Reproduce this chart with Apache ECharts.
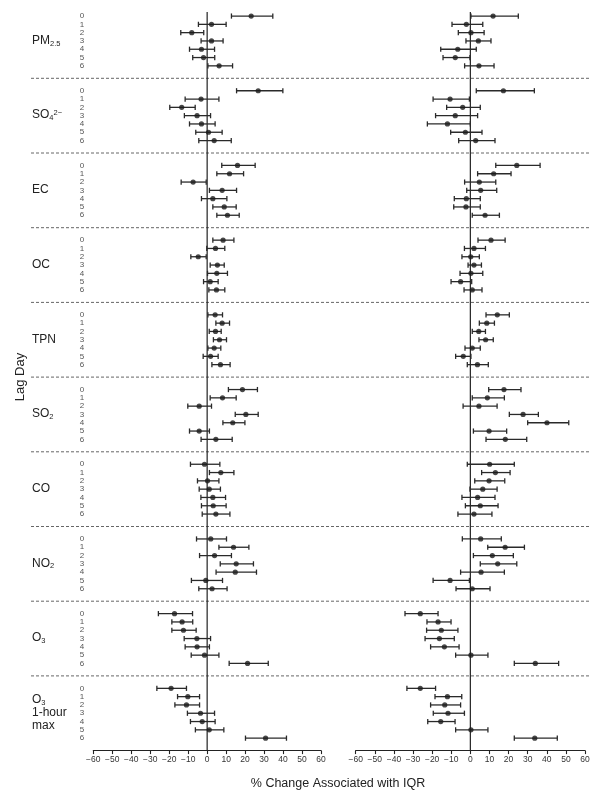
<!DOCTYPE html>
<html>
<head>
<meta charset="utf-8">
<script src="https://cdn.jsdelivr.net/npm/echarts@6/dist/echarts.min.js"></script>
<style>
  html, body { margin: 0; padding: 0; background: #fff; }
  #chart { width: 602px; height: 803px; }
</style>
</head>
<body>
<div id="chart"></div>
<script>
// group labels, top to bottom (rich text for sub/superscripts)
const groupLabels = [
  '{t|PM}{s|2.5}',
  '{t|SO}{s|4}{p|2−}',
  '{t|EC}',
  '{t|OC}',
  '{t|TPN}',
  '{t|SO}{s|2}',
  '{t|CO}',
  '{t|NO}{s|2}',
  '{t|O}{s|3}',
  '{t|O}{s|3}\n{t|1-hour}\n{t|max}'
]
const lagDays = [0, 1, 2, 3, 4, 5, 6]

// left panel, each row = [estimate, lower, upper] for lag 0..6
const leftPM25 = [[23.2, 12.8, 34.6], [2.3, -4.6, 10.0], [-8.1, -13.9, -1.8], [2.3, -3.2, 8.4], [-3.0, -9.3, 3.9], [-1.9, -7.6, 4.0], [6.3, 0.4, 13.4]]
const leftSO4 = [[26.9, 15.5, 39.9], [-3.2, -11.6, 6.2], [-13.4, -19.7, -6.3], [-5.3, -12.0, 1.8], [-3.0, -9.3, 4.2], [0.7, -6.0, 7.9], [3.7, -4.4, 12.7]]
const leftEC = [[16.0, 7.7, 25.3], [11.8, 5.1, 19.2], [-7.4, -13.7, -0.5], [7.9, 1.2, 15.5], [3.0, -3.0, 10.4], [9.0, 3.0, 15.3], [10.7, 5.1, 16.9]]
const leftOC = [[8.4, 3.0, 14.1], [4.4, -0.2, 9.3], [-4.7, -8.6, -0.5], [5.4, 1.6, 9.0], [5.1, 0.2, 10.7], [1.6, -1.9, 5.8], [4.9, 0.9, 9.3]]
const leftTPN = [[4.2, 0.4, 8.1], [7.9, 4.6, 11.8], [4.4, 1.1, 7.4], [6.5, 3.3, 10.2], [3.7, 0.4, 7.2], [1.8, -2.1, 5.8], [7.0, 2.5, 12.1]]
const leftSO2 = [[18.6, 11.2, 26.5], [8.1, 1.6, 15.3], [-4.2, -10.2, 2.3], [20.4, 14.8, 26.9], [13.5, 8.3, 19.9], [-4.2, -9.3, 1.2], [4.6, -3.2, 13.2]]
const leftCO = [[-1.4, -8.8, 6.7], [7.2, 1.2, 14.1], [0.2, -5.1, 6.2], [1.1, -4.2, 7.0], [3.0, -3.3, 9.7], [3.2, -3.0, 10.0], [4.6, -2.6, 12.0]]
const leftNO2 = [[1.9, -5.6, 10.2], [13.9, 6.2, 22.0], [3.9, -4.0, 12.8], [15.3, 6.9, 24.4], [14.8, 4.7, 26.0], [-0.7, -8.3, 8.1], [2.6, -4.4, 10.5]]
const leftO3 = [[-17.2, -25.7, -7.7], [-13.2, -18.6, -7.6], [-12.5, -18.6, -5.8], [-5.4, -12.1, 1.8], [-5.3, -11.6, 1.2], [-1.4, -8.4, 6.2], [21.3, 11.6, 32.2]]
const leftO3max = [[-19.0, -26.5, -10.9], [-10.2, -15.6, -4.0], [-10.9, -17.0, -4.0], [-3.5, -10.4, 3.9], [-2.6, -8.8, 4.2], [1.1, -6.2, 8.8], [30.8, 20.2, 41.8]]

// right panel
const rightPM25 = [[11.9, 0.3, 25.1], [-2.1, -9.6, 6.5], [0.3, -6.3, 7.2], [4.2, -2.3, 10.8], [-6.6, -15.5, 3.1], [-7.9, -14.3, -0.2], [4.5, -3.0, 12.4]]
const rightSO4 = [[17.3, 3.1, 33.5], [-10.6, -19.5, -0.5], [-4.0, -12.4, 5.2], [-7.9, -18.2, 3.8], [-12.0, -22.5, 0], [-2.6, -10.3, 6.1], [2.8, -6.1, 12.9]]
const rightEC = [[24.3, 13.3, 36.5], [12.2, 3.8, 21.3], [4.7, -3.0, 13.3], [5.4, -1.9, 13.8], [-2.1, -8.4, 5.2], [-2.3, -8.7, 5.2], [7.7, 1.0, 15.2]]
const rightOC = [[10.8, 4.0, 18.2], [1.9, -3.1, 7.9], [0.2, -4.4, 4.7], [1.9, -1.2, 5.8], [0.3, -5.4, 6.5], [-5.1, -10.1, 0.7], [1.0, -3.3, 6.1]]
const rightTPN = [[14.1, 8.2, 20.4], [8.6, 4.7, 12.6], [4.4, 1.0, 7.9], [8.0, 4.5, 12.0], [1.0, -2.8, 5.2], [-3.7, -7.7, 0.3], [3.7, -1.6, 9.4]]
const rightSO2 = [[17.6, 9.6, 26.5], [8.9, 1.0, 17.8], [4.5, -3.8, 14.0], [27.6, 20.4, 35.6], [40.1, 30.0, 51.5], [9.8, 1.6, 19.0], [18.3, 8.2, 29.5]]
const rightCO = [[10.1, -1.6, 23.0], [13.1, 5.9, 20.8], [9.8, 2.3, 18.0], [6.5, -0.2, 14.0], [3.8, -4.4, 12.9], [5.2, -2.6, 14.5], [1.9, -6.5, 11.3]]
const rightNO2 = [[5.4, -4.2, 16.2], [18.2, 9.1, 28.3], [11.5, 1.6, 22.5], [14.3, 5.2, 24.3], [5.6, -5.1, 17.8], [-10.6, -19.5, -0.5], [1.0, -7.5, 10.3]]
const rightO3 = [[-26.2, -34.2, -16.9], [-16.9, -22.7, -10.1], [-15.2, -22.9, -6.5], [-16.2, -23.7, -8.4], [-13.6, -20.8, -5.9], [0.3, -7.7, 9.2], [34.0, 23.0, 46.2]]
const rightO3max = [[-26.2, -33.2, -18.2], [-12.0, -18.5, -4.5], [-13.4, -20.8, -5.1], [-11.7, -19.4, -3.1], [-15.5, -22.3, -8.0], [0.3, -7.7, 9.2], [33.7, 23.0, 45.5]]

const leftPanel = [leftPM25, leftSO4, leftEC, leftOC, leftTPN, leftSO2, leftCO, leftNO2, leftO3, leftO3max]
const rightPanel = [rightPM25, rightSO4, rightEC, rightOC, rightTPN, rightSO2, rightCO, rightNO2, rightO3, rightO3max]

const FONT = 'Liberation Sans, Arial, sans-serif'
const GROUP = 9 // y units per pollutant block
const YMAX = groupLabels.length * GROUP
// y position of a lag row inside its block
const rowY = (g, lag) => g * GROUP + 1.5 + lag

const chart = echarts.init(document.getElementById('chart'), null, { renderer: 'canvas' })

// horizontal CI line with end caps
function errorBar (params, api) {
  const y = api.value(2)
  const a = api.coord([api.value(0), y])
  const b = api.coord([api.value(1), y])
  const h = 2.6
  const st = { stroke: '#2a2a2a', lineWidth: 1.3 }
  return {
    type: 'group',
    children: [
      { type: 'line', shape: { x1: a[0], y1: a[1], x2: b[0], y2: b[1] }, style: st },
      { type: 'line', shape: { x1: a[0], y1: a[1] - h, x2: a[0], y2: a[1] + h }, style: st },
      { type: 'line', shape: { x1: b[0], y1: b[1] - h, x2: b[0], y2: b[1] + h }, style: st }
    ]
  }
}

function panelSeries (panel, idx) {
  const bars = []
  const dots = []
  panel.forEach((rows, g) => rows.forEach((r, lag) => {
    const y = rowY(g, lag)
    bars.push([r[1], r[2], y])
    dots.push([r[0], y])
  }))
  return [
    {
      type: 'line', xAxisIndex: idx, yAxisIndex: idx, silent: true, z: 1,
      data: [[0, 1], [0, YMAX]], symbol: 'none',
      lineStyle: { color: '#222', width: 1.2 }
    },
    {
      type: 'custom', xAxisIndex: idx, yAxisIndex: idx, silent: true, z: 2,
      data: bars, renderItem: errorBar, encode: { x: [0, 1], y: 2 }
    },
    {
      type: 'scatter', xAxisIndex: idx, yAxisIndex: idx, silent: true, z: 3,
      data: dots, symbol: 'circle', symbolSize: 5.2,
      itemStyle: { color: '#1a1a1a' }
    }
  ]
}

function xAxisOf (idx) {
  return {
    gridIndex: idx, type: 'value', min: -60, max: 60, interval: 10,
    axisLine: { onZero: false, lineStyle: { color: '#222', width: 1.2 } },
    axisTick: { length: 3.5, lineStyle: { color: '#222', width: 1.1 } },
    axisLabel: {
      color: '#333', fontSize: 8.5, margin: 5, fontFamily: FONT,
      formatter: v => String(v).replace('-', '−')
    },
    splitLine: { show: false }
  }
}

function yAxisOf (idx) {
  return { gridIndex: idx, type: 'value', min: 0, max: YMAX, inverse: true, show: false }
}

// separators between blocks
const sepData = groupLabels.slice(1).map((_, i) => (i + 1) * GROUP)
// lag labels and group labels
const lagData = []
groupLabels.forEach((_, g) => lagDays.forEach(l => lagData.push([51, rowY(g, l), l])))
const nameData = groupLabels.map((_, g) => [1, g * GROUP + 4.5, g])

const rich = {
  t: { fontSize: 12, lineHeight: 13, fontFamily: FONT, fill: '#222', verticalAlign: 'top' },
  s: { fontSize: 7.5, lineHeight: 8, padding: [6, 0, 0, 0], fontFamily: FONT, fill: '#222', verticalAlign: 'bottom' },
  p: { fontSize: 7.5, lineHeight: 8, fontFamily: FONT, fill: '#222', verticalAlign: 'top' }
}

const option = {
  animation: false,
  backgroundColor: '#fff',
  textStyle: { fontFamily: FONT },
  grid: [
    { left: 93.3, width: 227.7, top: 3.6, height: 747 },
    { left: 355.7, width: 229.3, top: 3.6, height: 747 },
    { left: 31, width: 559, top: 3.6, height: 747 }
  ],
  xAxis: [
    xAxisOf(0),
    xAxisOf(1),
    { gridIndex: 2, type: 'value', min: 0, max: 559, show: false }
  ],
  yAxis: [yAxisOf(0), yAxisOf(1), yAxisOf(2)],
  graphic: [
    {
      type: 'text', x: 338, y: 784,
      style: { text: '% Change Associated with IQR', font: '12.5px ' + FONT, fill: '#222', align: 'center', verticalAlign: 'middle' }
    },
    {
      type: 'text', x: 20, y: 377, rotation: Math.PI / 2,
      style: { text: 'Lag Day', font: '13px ' + FONT, fill: '#222', align: 'center', verticalAlign: 'middle' }
    }
  ],
  series: [
    {
      type: 'custom', xAxisIndex: 2, yAxisIndex: 2, silent: true, z: 0,
      data: sepData,
      encode: { y: 0 },
      renderItem: (params, api) => {
        const a = api.coord([0, api.value(0)])
        const b = api.coord([559, api.value(0)])
        return {
          type: 'line',
          shape: { x1: a[0], y1: a[1], x2: b[0], y2: b[1] },
          style: { stroke: '#666', lineWidth: 1, lineDash: [3, 2] }
        }
      }
    },
    {
      type: 'custom', xAxisIndex: 2, yAxisIndex: 2, silent: true,
      data: lagData,
      encode: { x: 0, y: 1 },
      renderItem: (params, api) => {
        const p = api.coord([api.value(0), api.value(1)])
        return {
          type: 'text', x: p[0], y: p[1],
          style: { text: String(api.value(2)), font: '8px ' + FONT, fill: '#555', align: 'center', verticalAlign: 'middle' }
        }
      }
    },
    {
      type: 'custom', xAxisIndex: 2, yAxisIndex: 2, silent: true,
      data: nameData,
      encode: { x: 0, y: 1 },
      renderItem: (params, api) => {
        const p = api.coord([api.value(0), api.value(1)])
        return {
          type: 'text', x: p[0], y: p[1],
          style: { text: groupLabels[api.value(2)], rich: rich, font: '12px ' + FONT, fill: '#222', align: 'left', verticalAlign: 'middle' }
        }
      }
    },
    ...panelSeries(leftPanel, 0),
    ...panelSeries(rightPanel, 1)
  ]
}

chart.setOption(option)
</script>
</body>
</html>
